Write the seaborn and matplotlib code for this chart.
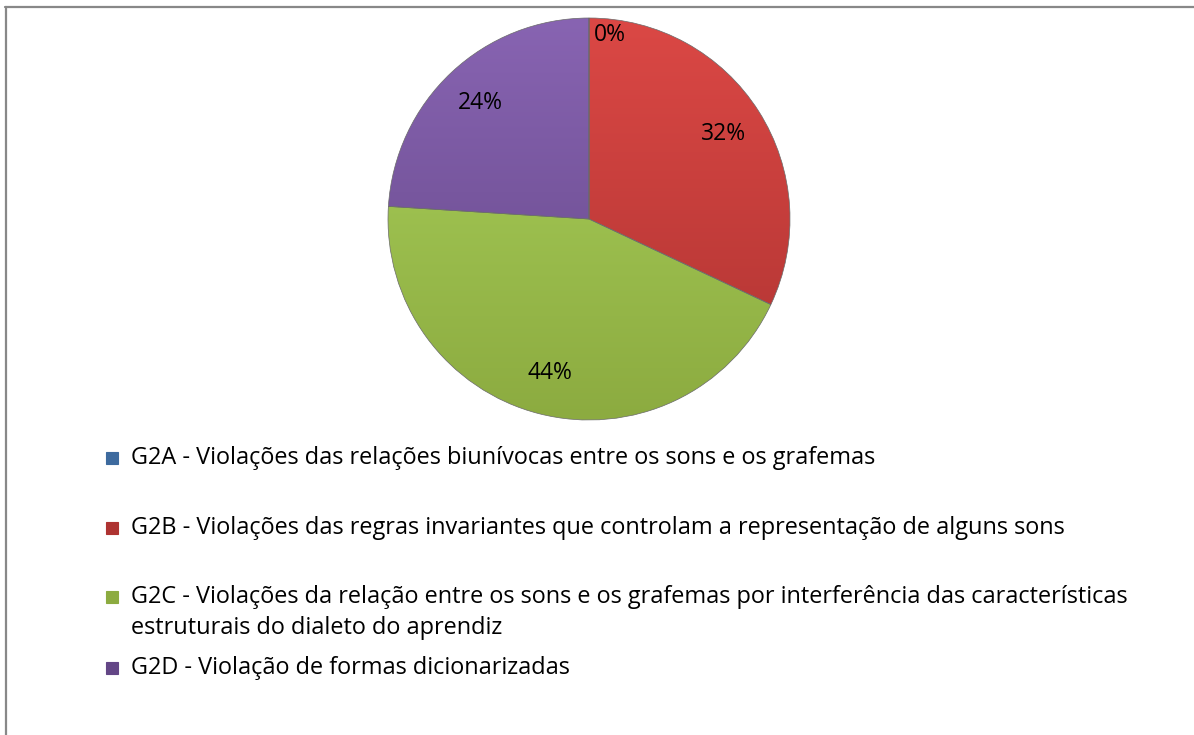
import numpy as np
import matplotlib
matplotlib.use("Agg")
import matplotlib.pyplot as plt
import seaborn as sns
from matplotlib.patches import Rectangle
from matplotlib.lines import Line2D
from matplotlib.colors import LinearSegmentedColormap

# data
categories = ["G2A", "G2B", "G2C", "G2D"]
shares = [0, 32, 44, 24]
legend_labels = [
    "G2A - Violações das relações biunívocas entre os sons e os grafemas",
    "G2B - Violações das regras invariantes que controlam a representação de alguns sons",
    "G2C - Violações da relação entre os sons e os grafemas por interferência das características\nestruturais do dialeto do aprendiz",
    "G2D - Violação de formas dicionarizadas",
]
# light / dark shade of each slice
top_colors = ["#5B8FCB", "#DB4845", "#ABD25C", "#8864B2"]
bottom_colors = ["#3D6A9E", "#AE3331", "#8CAB40", "#634686"]

sns.set_theme(style="white")
plt.rcParams["font.family"] = ["Open Sans", "DejaVu Sans"]

W, H = 1194, 735
fig = plt.figure(figsize=(W / 100, H / 100), dpi=100)
fig.patch.set_facecolor("white")

cx, cy, r = 589, 219, 201
ax = fig.add_axes([(cx - r) / W, (H - cy - r) / H, 2 * r / W, 2 * r / H])

wedges, texts, autotexts = ax.pie(
    shares, startangle=90, counterclock=False,
    colors=top_colors, autopct="%1.0f%%", pctdistance=0.79,
    textprops=dict(fontsize=16.5, color="black", family=["Open Sans", "DejaVu Sans"]),
    wedgeprops=dict(linewidth=0.5, edgecolor="#6a6a6a"),
)

# vertical gradient clipped to each wedge
grad = np.linspace(1, 0, 256).reshape(-1, 1)
for w, c1, c2 in zip(wedges, top_colors, bottom_colors):
    cmap = LinearSegmentedColormap.from_list("g", [c2, c1])
    im = ax.imshow(grad, cmap=cmap, extent=[-1, 1, -1, 1], origin="upper",
                   aspect="auto", zorder=w.get_zorder() + 0.1, vmin=0, vmax=1)
    im.set_clip_path(w)
    w.set_facecolor("none")
    w.set_zorder(w.get_zorder() + 0.2)
for t in autotexts:
    t.set_zorder(5)

# the empty slice label sits just right of the top
ang = np.deg2rad(83.5)
autotexts[0].set_position((0.92 * np.cos(ang), 0.92 * np.sin(ang)))

ax.set_xlim(-1.0, 1.0)
ax.set_ylim(-1.0, 1.0)
ax.set_aspect("auto")
ax.axis("off")

# legend
rows = [[458], [528], [597, 628], [668]]
for lab, ys, c1, c2 in zip(legend_labels, rows, top_colors, bottom_colors):
    fig.patches.append(Rectangle(((106) / W, 1 - (ys[0] + 6) / H), 12 / W, 12 / H,
                                 transform=fig.transFigure, facecolor=c2,
                                 edgecolor=c2, linewidth=0.8))
    for line, y in zip(lab.split("\n"), ys):
        fig.text(131 / W, 1 - y / H, line, fontsize=16.9, va="center", ha="left",
                 color="black")

# chart border
fig.lines.append(Line2D([5 / W, 1], [1 - 7 / H, 1 - 7 / H], transform=fig.transFigure,
                        color="#888888", linewidth=1.6))
fig.lines.append(Line2D([6 / W, 6 / W], [0, 1 - 7 / H], transform=fig.transFigure,
                        color="#888888", linewidth=1.6))

fig.savefig("out.png", dpi=100)
